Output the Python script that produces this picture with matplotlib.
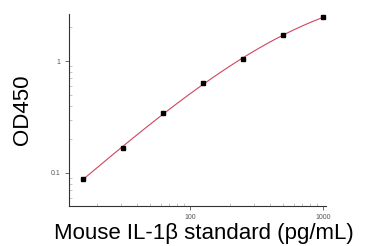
import numpy as np
import matplotlib
matplotlib.use("Agg")
import matplotlib.pyplot as plt

plt.rcParams['font.family'] = ['Liberation Sans', 'DejaVu Sans']

# standard concentrations (pg/mL) and measured OD450
conc = [15.6, 31.25, 62.5, 125, 250, 500, 1000]
od450 = [0.088, 0.167, 0.341, 0.632, 1.04, 1.71, 2.46]

fig = plt.figure(figsize=(3.67, 2.46), dpi=100)
ax = fig.add_axes([0.188, 0.163, 0.70, 0.78])

# smooth fit in log-log space
lx = np.log10(conc)
ly = np.log10(od450)
coef = np.polyfit(lx, ly, 3)
xs = np.linspace(lx[0], lx[-1], 200)
ax.plot(10 ** xs, 10 ** np.polyval(coef, xs), color='#d0455e', lw=0.8)
ax.plot(conc, od450, 's', color='black', ms=3)

ax.set_xscale('log')
ax.set_yscale('log')
ax.set_xlim(12.3, 1050)
ax.set_ylim(0.0507, 2.63)
ax.set_xticks([100, 1000])
ax.set_xticklabels(['100', '1000'])
ax.set_yticks([0.1, 1])
ax.set_yticklabels(['0.1', '1'])

for s in ['top', 'right']:
    ax.spines[s].set_visible(False)
for s in ['left', 'bottom']:
    ax.spines[s].set_linewidth(0.8)
    ax.spines[s].set_color('#333333')

ax.tick_params(which='major', length=3, width=0.6, labelsize=5, labelcolor='#555555', colors='#555555', pad=3)
ax.tick_params(which='minor', direction='in', length=2, width=0.4, colors='#999999')
ax.yaxis.set_minor_formatter(matplotlib.ticker.NullFormatter())
ax.xaxis.set_minor_formatter(matplotlib.ticker.NullFormatter())

ax.set_xlabel('Mouse IL-1β standard (pg/mL)', fontsize=16)
ax.xaxis.set_label_coords(0.525, -0.172, transform=ax.transAxes)
ax.xaxis.label.set_va('baseline')
ax.set_ylabel('OD450', fontsize=16, labelpad=13)

fig.savefig('out.png', dpi=100)
